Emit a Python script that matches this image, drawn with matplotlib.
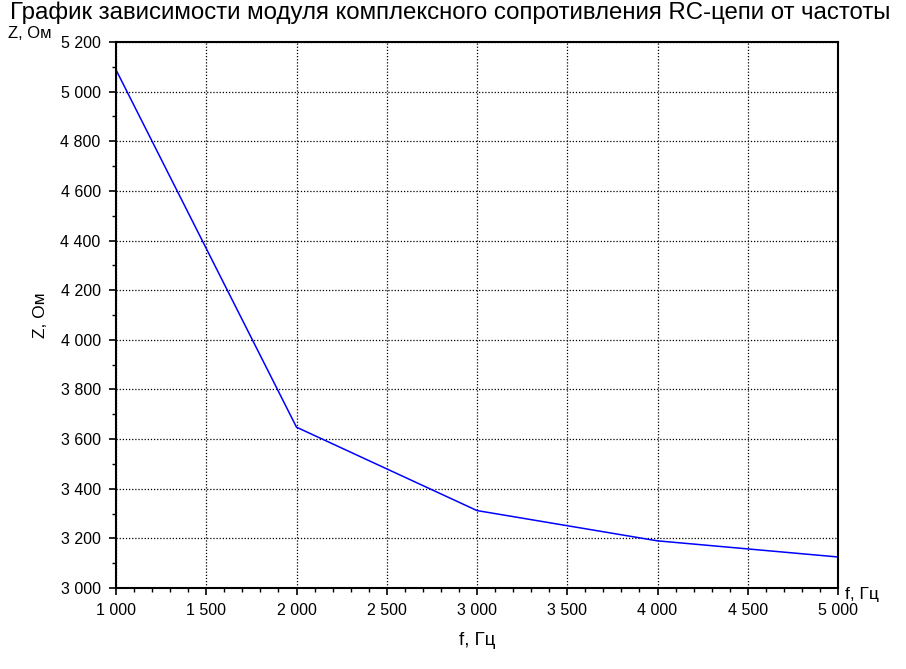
import matplotlib
matplotlib.use("Agg")
import matplotlib.pyplot as plt
from matplotlib.ticker import FuncFormatter, MultipleLocator

freq = [1000, 2000, 3000, 4000, 5000]
z_mag = [5088, 3648, 3312, 3190, 3125]
x_ticks = [1000, 1500, 2000, 2500, 3000, 3500, 4000, 4500, 5000]
y_ticks = [3000, 3200, 3400, 3600, 3800, 4000, 4200, 4400, 4600, 4800, 5000, 5200]

plt.rcParams['font.family'] = ['Liberation Sans', 'DejaVu Sans']

fig = plt.figure(figsize=(9.06, 6.69), dpi=100)
ax = fig.add_axes([116/906, 1-588/669, (838-116)/906, (588-42)/669])

ax.plot(freq, z_mag, color='#0000ff', lw=1.1)
ax.set_xlim(1000, 5000)
ax.set_ylim(3000, 5200)
ax.set_xticks(x_ticks)
ax.set_yticks(y_ticks)
ax.xaxis.set_minor_locator(MultipleLocator(100))
ax.yaxis.set_minor_locator(MultipleLocator(100))
fmt = FuncFormatter(lambda v, p: f"{int(v):,}".replace(",", " "))
ax.xaxis.set_major_formatter(fmt)
ax.yaxis.set_major_formatter(fmt)
ax.tick_params(which='major', direction='out', length=5, width=1.2, labelsize=11.5, colors='black', pad=6)
ax.tick_params(which='minor', direction='out', length=3, width=1)
ax.grid(True, which='major', color='black', linestyle=(0, (1, 1.5)), linewidth=0.9)
for s in ax.spines.values():
    s.set_linewidth(1.5)
    s.set_color('black')

ax.set_xlabel('f, Гц', fontsize=13.5, labelpad=10)
ax.set_ylabel('Z, Ом', fontsize=12.5, labelpad=9)
fig.text(8/906, 1-38/669, 'Z, Ом', fontsize=12, va='baseline', ha='left')
fig.text(845/906, 1-594/669, 'f, Гц', fontsize=12.5, va='center', ha='left')
fig.text(450/906, 1-19/669, 'График зависимости модуля комплексного сопротивления RC-цепи от частоты',
         fontsize=17.3, ha='center', va='baseline')

fig.savefig('out.png', dpi=100)
